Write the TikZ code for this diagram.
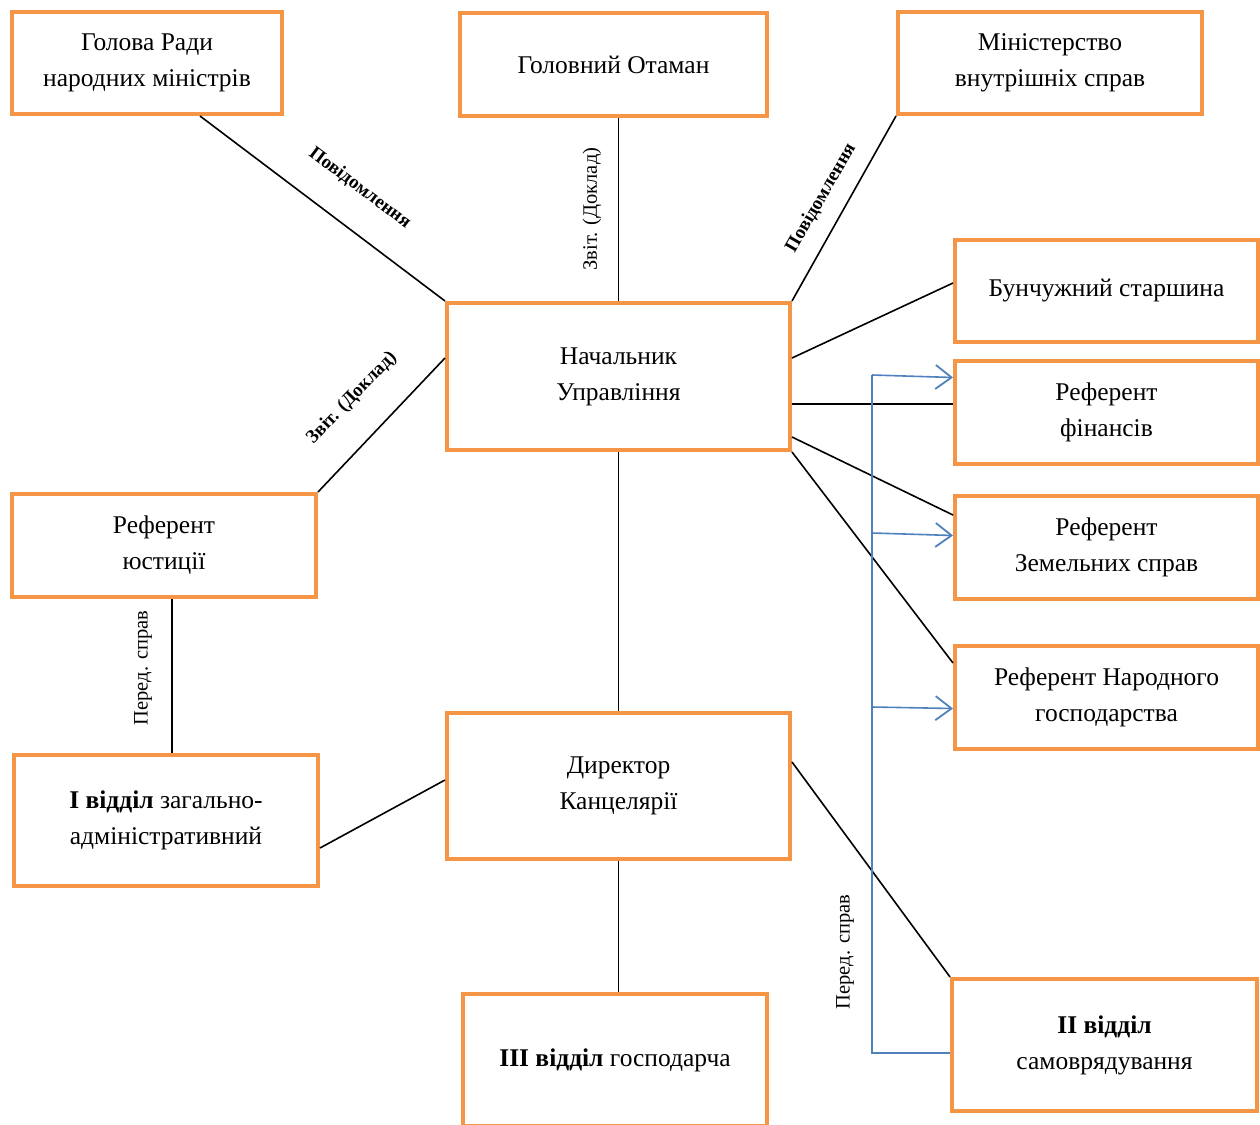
\documentclass[tikz,border=0pt]{standalone}
\usepackage{fontspec}
\setmainfont{Liberation Serif}
\usetikzlibrary{arrows.meta}
\definecolor{borange}{RGB}{245,150,70}
\definecolor{lblue}{RGB}{79,129,189}
\tikzset{
  box/.style={draw=borange, line width=4pt, fill=white, align=center, inner sep=0pt,
    font=\fontsize{25.5}{36}\selectfont},
  conn/.style={line width=1.6pt, black},
  bconn/.style={line width=1.6pt, lblue},
  barrow/.style={bconn, -{Straight Barb[length=16pt,width=24pt,line width=1.8pt]}},
  lbl/.style={font=\fontsize{20.5}{24}\selectfont, inner sep=0pt},
  blbl/.style={font=\fontsize{19}{22}\selectfont\bfseries, inner sep=0pt}
}
\newcommand{\mybox}[6]{% name, x1, y1, x2, y2, text
  \node[box, minimum width=#4pt-#2pt, minimum height=#5pt-#3pt] (#1) at ({(#2+#4)/2},{(#3+#5)/2}) {#6};}
\begin{document}
\begin{tikzpicture}[x=1pt,y=-1pt]
\useasboundingbox (0,0) rectangle (1260,1124);
\mybox{gol}{12}{12}{282}{114}{Голова Ради\\народних міністрів}
\mybox{ota}{460}{13}{767}{116}{Головний Отаман}
\mybox{min}{898}{12}{1202}{114}{Міністерство\\внутрішніх справ}
\mybox{bun}{955}{240}{1258}{342}{Бунчужний старшина}
\mybox{fin}{955}{361}{1258}{464}{Референт\\фінансів}
\mybox{zem}{955}{496}{1258}{599}{Референт\\Земельних справ}
\mybox{nar}{955}{646}{1258}{749}{Референт Народного\\господарства}
\mybox{nach}{447}{303}{790}{450}{Начальник\\Управління}
\mybox{yus}{12}{494}{316}{597}{Референт\\юстиції}
\mybox{vid1}{14}{755}{318}{886}{\textbf{I відділ} загально-\\адміністративний}
\mybox{dir}{447}{713}{790}{859}{Директор\\Канцелярії}
\mybox{vid3}{463}{994}{767}{1126}{\textbf{III відділ} господарча}
\mybox{vid2}{952}{979}{1257}{1111}{\textbf{II відділ}\\самоврядування}

% black connectors
\draw[conn] ([xshift=53pt]gol.south) -- (nach.north west);
\draw[conn] (nach.north) -- (nach.north |- ota.south);
\draw[conn] (min.south west) -- (nach.north east);
\draw[conn] ([yshift=8pt]bun.west) -- ([yshift=18.5pt]nach.east);
\draw[conn] ([yshift=8.5pt]fin.west) -- ([yshift=-27.5pt]nach.east);
\draw[conn] ([yshift=32.5pt]zem.west) -- ([yshift=-60.5pt]nach.east);
\draw[conn] ([yshift=34.5pt]nar.west) -- (nach.south east);
\draw[conn] ([yshift=18.5pt]nach.west) -- (yus.north east);
\draw[conn] ([xshift=8pt]yus.south) -- ([xshift=8pt]yus.south |- vid1.north);
\draw[conn] (nach.south) -- (dir.north);
\draw[conn] ([yshift=6pt]dir.west) -- ([yshift=-27.5pt]vid1.east);
\draw[conn] (dir.south) -- (dir.south |- vid3.north);
\draw[conn] ([yshift=24pt]dir.east) -- (vid2.north west);

% blue connectors
\coordinate (btop) at (872,375);
\coordinate (bz) at (872,533);
\coordinate (bn) at (872,707);
\coordinate (bbot) at (872,1053);
\draw[bconn] (btop) -- (bbot) -- (bbot -| vid2.west);
\draw[barrow] (btop) -- ([yshift=35pt]fin.west);
\draw[barrow] (bz) -- ([yshift=12pt]zem.west);
\draw[barrow] (bn) -- ([yshift=-11pt]nar.west);

% labels
\node[blbl, rotate=-37] (l1) at (360,188) {Повідомлення};
\node[blbl, rotate=60] (l2) at (821,198) {Повідомлення};
\node[lbl, rotate=90] (l3) at (592,209) {Звіт. (Доклад)};
\node[blbl, rotate=46] (l4) at (352,398) {Звіт. (Доклад)};
\node[lbl, rotate=90] (l5) at (143,668) {Перед. справ};
\node[lbl, rotate=90] (l6) at (845,952) {Перед. справ};
\end{tikzpicture}
\end{document}
